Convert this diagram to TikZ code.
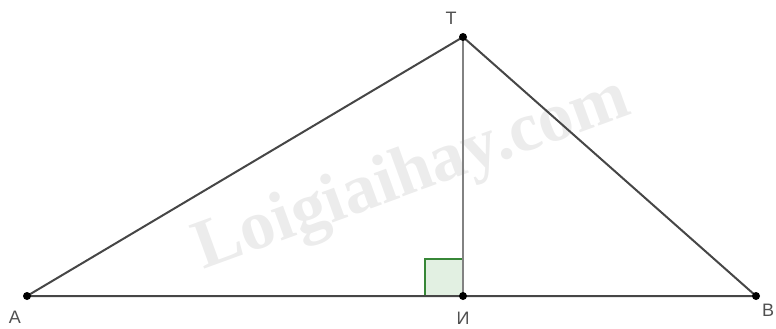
\documentclass[tikz,border=0pt]{standalone}
\usepackage{fontspec}
\setmainfont{Liberation Sans}
\newfontfamily\wmfont{Liberation Serif}
\definecolor{edgegray}{RGB}{70,70,70}
\definecolor{altgray}{RGB}{130,130,130}
\definecolor{labgray}{RGB}{80,80,80}
\definecolor{sqgreen}{RGB}{55,135,55}
\definecolor{sqfill}{RGB}{226,240,226}
\definecolor{wmgray}{RGB}{236,236,236}
\tikzset{
  edge/.style={draw=edgegray, line width=2pt},
  altline/.style={draw=altgray, line width=2.4pt},
  pt/.style={circle, fill=black, inner sep=0pt, minimum size=8pt},
  lab/.style={text=labgray, font=\fontsize{18}{18}\selectfont, inner sep=0pt},
  wm/.style={text=wmgray, font=\wmfont\bfseries\fontsize{70}{70}\selectfont, inner sep=0pt}
}
\begin{document}
\begin{tikzpicture}[x=1pt,y=-1pt]
\useasboundingbox (0,0) rectangle (776,329);
\node[wm, rotate=20] (wmark) at (413,176) {Loigiaihay.com};
\coordinate (A) at (27,296);
\coordinate (T) at (463,37);
\coordinate (B) at (756,296);
\coordinate (H) at (463,296);
\coordinate (S1) at (425,296);
\coordinate (S2) at (425,259);
\coordinate (S3) at (463,259);
\fill[sqfill] (S1) -- (S2) -- (S3) -- (H) -- cycle;
\draw[sqgreen, line width=2.6pt] (S1) -- (S2) -- (S3) -- (H) -- cycle;
\draw[altline] (T) -- (H);
\draw[edge] (A) -- (T) -- (B) -- (A);
\node[pt] (pA) at (A) {};
\node[pt] (pT) at (T) {};
\node[pt] (pB) at (B) {};
\node[pt] (pH) at (H) {};
\node[lab] (lA) at (15,317) {A};
\node[lab] (lT) at (451,18) {T};
\node[lab] (lB) at (768,310) {B};
\node[lab] (lH) at (463,318) {И};
\end{tikzpicture}
\end{document}
